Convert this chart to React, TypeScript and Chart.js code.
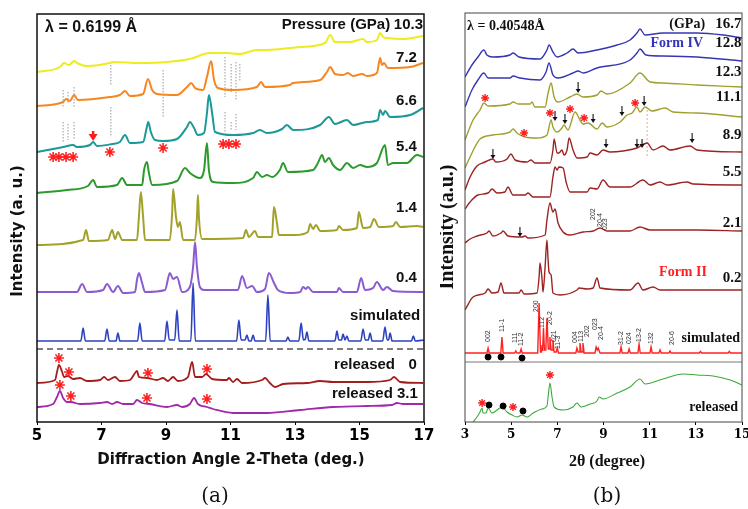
import { useEffect, useRef } from "react";
import { Chart, registerables } from "chart.js";
Chart.register(...registerables);

type P = [number, number];

// ---------------- Panel (a) data: [2θ, intensity (stacked, a.u.)] ----------------
const a103: P[] = [[5.00,350],[5.71,355],[5.84,359],[5.99,357],[6.15,361],[6.24,359],[6.55,356],[7.26,359],[7.36,360],[8.19,359],[9.03,360],[9.74,363],[10.36,369],[10.89,369],[11.29,368],[11.82,372],[12.13,372],[13.16,375],[13.93,379],[14.09,387],[14.24,380],[14.71,380],[15.11,383],[15.23,380],[15.54,382],[15.64,389],[15.73,385],[15.86,384],[16.35,383],[16.97,386]];
const a72: P[] = [[5.00,316],[5.81,320],[5.90,323],[6.02,321],[6.15,327],[6.27,322],[7.26,325],[7.57,327],[7.73,331],[7.88,326],[8.29,328],[8.44,343],[8.57,332],[8.72,328],[9.34,327],[9.65,335],[9.78,339],[9.90,334],[10.15,332],[10.27,345],[10.40,361],[10.49,342],[10.61,334],[11.08,332],[11.82,335],[11.95,340],[12.07,335],[12.84,337],[12.94,339],[13.78,342],[13.99,350],[14.09,355],[14.24,348],[14.49,347],[14.64,349],[14.80,346],[15.08,348],[15.23,346],[15.54,349],[15.64,364],[15.70,357],[15.76,359],[15.88,354],[16.57,355],[16.97,359]];
const a66: P[] = [[5.00,270],[5.50,273],[5.81,275],[6.12,277],[6.24,275],[6.64,277],[6.74,280],[6.86,276],[7.33,278],[7.57,280],[7.73,287],[7.88,279],[8.29,280],[8.40,294],[8.45,300],[8.53,290],[8.66,282],[8.91,281],[9.34,283],[9.65,295],[9.74,300],[9.87,294],[9.99,287],[10.18,289],[10.27,309],[10.33,327],[10.43,309],[10.52,290],[11.08,287],[11.70,289],[11.91,292],[12.13,289],[12.60,293],[12.75,297],[12.94,292],[13.78,297],[14.05,305],[14.24,298],[14.61,302],[14.80,297],[15.23,300],[15.57,302],[15.64,312],[15.73,307],[15.79,311],[15.95,305],[16.57,307],[16.97,314]];
const a54: P[] = [[5.00,229],[5.93,232],[6.58,236],[6.74,242],[6.86,235],[7.48,237],[7.64,244],[7.79,237],[8.26,237],[8.32,252],[8.41,260],[8.47,249],[8.57,237],[9.34,241],[9.59,254],[9.74,249],[10.05,244],[10.18,252],[10.27,279],[10.33,252],[10.46,240],[11.08,239],[11.70,244],[11.82,250],[11.98,245],[12.13,247],[12.29,245],[12.53,252],[12.63,259],[12.78,250],[13.56,252],[13.71,259],[13.84,267],[13.93,260],[14.05,264],[14.18,257],[14.40,252],[14.61,259],[14.80,254],[15.02,257],[15.23,255],[15.54,259],[15.79,277],[15.88,257],[16.04,259],[16.47,259],[16.78,267],[16.97,265]];
const a14: P[] = [[5.00,177],[6.43,182],[6.52,192],[6.61,181],[7.20,182],[7.33,192],[7.42,183],[7.51,190],[7.64,182],[8.10,182],[8.16,205],[8.22,230],[8.29,205],[8.35,182],[9.12,182],[9.19,209],[9.22,233],[9.31,205],[9.37,195],[9.43,200],[9.53,182],[9.90,182],[9.96,205],[9.99,227],[10.02,205],[10.12,183],[11.39,184],[11.48,192],[11.57,185],[11.76,191],[11.85,185],[12.29,185],[12.32,202],[12.35,215],[12.44,199],[12.50,187],[13.00,187],[13.40,190],[13.47,198],[13.56,193],[13.65,197],[13.78,191],[14.30,192],[14.36,196],[14.49,192],[14.92,194],[14.98,210],[15.11,194],[15.33,195],[15.45,203],[15.60,195],[16.04,196],[16.13,200],[16.26,195],[16.78,196],[16.97,195]];
const a04: P[] = [[5.00,130],[6.24,130],[6.40,138],[6.55,130],[7.05,132],[7.17,138],[7.36,130],[7.51,136],[7.67,129],[8.04,130],[8.10,142],[8.16,149],[8.26,139],[8.35,130],[8.97,132],[9.12,149],[9.22,143],[9.34,145],[9.50,130],[9.74,135],[9.84,155],[9.90,180],[9.96,155],[10.05,135],[10.18,132],[11.23,132],[11.36,146],[11.51,134],[11.67,136],[11.82,130],[12.07,133],[12.19,149],[12.35,139],[12.47,132],[12.84,129],[13.16,130],[13.25,135],[13.34,133],[13.40,135],[13.56,130],[14.30,130],[14.36,134],[14.49,130],[14.92,130],[15.05,144],[15.17,132],[15.42,134],[15.54,140],[15.73,132],[15.85,135],[16.04,131],[16.97,130]];
const aSim: P[] = [[5.00,81],[6.36,81],[6.43,94],[6.50,81],[7.10,81],[7.17,93],[7.24,81],[7.45,81],[7.51,89],[7.57,81],[8.12,81],[8.19,99],[8.26,81],[8.96,81],[9.03,101],[9.10,82],[9.27,82],[9.34,112],[9.41,81],[9.77,81],[9.84,139],[9.91,81],[11.19,81],[11.26,102],[11.33,82],[11.45,82],[11.51,87],[11.57,81],[11.64,81],[11.70,87],[11.76,81],[12.09,81],[12.16,127],[12.23,81],[12.72,81],[12.78,85],[12.84,81],[13.12,81],[13.19,99],[13.26,82],[13.32,83],[13.37,90],[13.43,81],[14.24,81],[14.30,91],[14.36,82],[14.44,82],[14.49,88],[14.55,82],[14.61,86],[14.67,81],[15.04,81],[15.11,93],[15.18,82],[15.27,82],[15.33,89],[15.39,81],[15.72,81],[15.79,95],[15.86,82],[15.90,82],[15.95,89],[16.01,81],[16.61,81],[16.67,86],[16.73,81],[17.00,82]];
const aRel0: P[] = [[5.00,39],[5.56,42],[5.62,50],[5.68,57],[5.78,50],[5.84,45],[5.96,46],[6.12,43],[6.33,44],[6.55,41],[6.95,42],[7.08,45],[7.20,42],[7.42,45],[7.57,41],[7.88,42],[8.04,49],[8.10,51],[8.16,45],[8.41,44],[8.72,42],[8.91,44],[9.06,41],[9.22,45],[9.37,41],[9.68,45],[9.81,60],[9.90,45],[10.12,45],[10.24,48],[10.43,43],[10.89,42],[10.95,44],[11.08,40],[11.20,43],[11.36,39],[11.98,42],[12.07,44],[12.22,39],[12.38,35],[12.63,38],[13.37,39],[13.78,41],[14.18,40],[15.23,40],[15.95,42],[16.07,45],[16.26,40],[16.97,39]];
const aRel31: P[] = [[5.00,15],[5.50,18],[5.62,25],[5.71,31],[5.81,24],[5.93,20],[6.05,20],[6.33,18],[6.95,19],[7.17,20],[7.33,18],[7.48,20],[7.67,18],[7.98,18],[8.10,22],[8.26,19],[8.50,18],[9.03,15],[9.34,17],[9.50,15],[9.74,18],[9.87,24],[9.99,18],[10.27,15],[10.46,13],[11.08,9],[12.13,9],[13.16,12],[14.18,15],[15.23,16],[16.01,17],[16.16,19],[16.35,18],[16.97,18]];
const aStarX = [5.50,5.68,5.90,6.12,7.26,8.91,10.77,10.95,11.17,5.68,5.99,8.44,10.27,5.71,6.05,8.41,10.27];
const aStarY = [265,265,265,265,270,274,278,278,278,64,50,49,53,37,26,24,23];
// dotted guide segments: [2θ, from, to]
const aGuides: [number, number, number][] = [[5.81,332,315],[5.81,300,280],[5.96,330,318],[5.96,298,282],[6.15,335,315],[6.15,300,282],[7.29,357,337],[7.29,315,285],[8.91,352,305],[10.83,365,325],[10.83,310,290],[11.02,358,330],[11.02,300,292],[11.17,360,322],[11.17,308,292],[11.29,358,340]];
const aSeparator: P[] = [[5,73],[17,73]];
const aArrowX = [6.74];
const aArrowTop = [291];
const aArrowTip = [281];

// ---------------- Panel (b) data ----------------
const b167: P[] = [[3.00,345],[3.30,357],[3.56,365],[3.82,372],[3.95,367],[4.21,365],[4.95,367],[5.08,369],[5.34,365],[6.25,363],[6.55,372],[6.64,377],[6.81,370],[6.99,365],[7.42,369],[7.68,373],[7.90,369],[8.72,372],[9.59,377],[10.15,382],[10.45,389],[10.58,393],[10.80,387],[11.58,389],[13.05,389],[14.18,387],[15.00,384]];
const b128: P[] = [[3.00,315],[3.30,332],[3.56,342],[3.82,349],[4.00,344],[4.95,344],[5.08,346],[5.38,344],[6.25,342],[6.51,350],[6.64,359],[6.81,347],[7.03,344],[7.68,349],[7.90,351],[8.12,349],[8.72,354],[10.15,362],[10.45,369],[10.58,373],[10.84,367],[11.58,366],[13.05,365],[15.00,361]];
const b123: P[] = [[3.00,282],[3.35,302],[3.65,312],[3.82,319],[4.00,316],[4.95,318],[5.08,320],[5.30,318],[5.82,318],[5.90,320],[6.03,315],[6.47,315],[6.60,329],[6.73,339],[6.86,325],[7.03,320],[7.55,325],[7.85,328],[8.11,325],[8.72,327],[8.89,331],[9.15,328],[10.15,339],[10.58,349],[11.02,340],[11.58,339],[13.05,337],[15.00,335]];
const b111: P[] = [[3.00,254],[3.22,265],[3.43,275],[3.65,283],[4.21,287],[4.95,290],[5.08,293],[5.25,289],[5.60,285],[6.12,284],[6.55,287],[6.73,302],[6.81,295],[6.99,290],[7.20,294],[7.29,297],[7.46,292],[7.77,310],[7.98,302],[8.11,298],[8.33,299],[8.72,293],[8.94,299],[9.15,295],[9.72,300],[10.02,307],[10.24,309],[10.45,315],[10.58,310],[10.80,315],[11.10,311],[11.67,314],[12.01,310],[13.05,309],[15.00,305]];
const b89: P[] = [[3.00,232],[3.22,245],[3.52,256],[3.87,260],[4.21,263],[4.34,260],[4.82,263],[4.99,268],[5.17,262],[5.69,260],[5.86,262],[6.03,259],[6.68,259],[6.81,272],[6.86,283],[6.99,269],[7.07,269],[7.20,272],[7.29,267],[7.42,272],[7.51,284],[7.68,272],[7.85,264],[8.29,265],[8.42,269],[8.72,267],[8.98,272],[9.28,270],[9.85,271],[10.45,274],[10.89,279],[11.15,272],[11.58,276],[11.88,272],[12.75,276],[13.05,272],[15.00,270]];
const b55: P[] = [[3.00,213],[3.22,220],[3.56,227],[4.00,229],[4.17,233],[4.39,229],[4.73,230],[4.86,235],[5.08,227],[5.60,227],[5.73,229],[5.95,225],[6.68,225],[6.81,245],[6.90,255],[6.99,252],[7.07,255],[7.25,254],[7.38,240],[7.55,230],[8.29,230],[8.42,234],[8.72,233],[8.98,242],[9.28,235],[10.15,235],[10.71,242],[11.02,237],[11.45,240],[11.75,237],[12.62,240],[12.88,238],[15.00,237]];
const b21: P[] = [[3.00,179],[3.22,183],[3.52,186],[3.95,189],[4.04,191],[4.21,186],[4.56,189],[4.65,191],[4.86,186],[5.47,185],[5.60,186],[5.73,184],[6.47,187],[6.55,202],[6.68,219],[6.81,210],[6.90,213],[7.03,199],[7.25,190],[7.55,187],[8.11,190],[8.55,191],[8.85,194],[9.15,191],[10.15,191],[10.58,195],[11.02,192],[13.05,192],[15.00,191]];
const b02: P[] = [[3.00,112],[3.35,125],[3.87,129],[4.00,133],[4.17,129],[4.43,130],[4.56,139],[4.69,129],[5.34,129],[5.43,132],[5.56,128],[6.12,129],[6.21,145],[6.25,159],[6.34,142],[6.38,130],[6.47,155],[6.55,182],[6.60,162],[6.64,150],[6.73,147],[6.81,129],[7.12,127],[7.85,132],[7.94,134],[8.29,133],[8.55,134],[8.72,144],[8.85,134],[10.15,132],[10.50,139],[10.71,132],[11.15,135],[11.45,132],[15.00,132]];
const bSim: P[] = [[3.0,69],[3.95,69],[4.00,74],[4.05,69],[4.55,69],[4.60,85],[4.65,69],[5.15,69],[5.20,71],[5.25,69],[5.38,69],[5.43,73],[5.48,69],[6.15,69],[6.21,119],[6.27,70],[6.31,70],[6.34,77],[6.36,71],[6.40,94],[6.44,72],[6.50,72],[6.55,104],[6.61,73],[6.64,73],[6.68,85],[6.73,72],[6.77,72],[6.81,82],[6.86,70],[6.95,70],[7.00,74],[7.05,69],[7.80,69],[7.85,74],[7.90,70],[7.94,70],[7.98,79],[8.03,70],[8.07,70],[8.11,79],[8.16,69],[8.63,69],[8.68,75],[8.73,72],[8.77,74],[8.85,69],[9.71,69],[9.76,75],[9.81,69],[10.06,69],[10.11,73],[10.16,69],[10.49,69],[10.54,78],[10.59,69],[11.01,69],[11.06,75],[11.11,69],[11.40,69],[11.45,72],[11.50,69],[11.83,69],[11.88,71],[11.93,69],[13.15,69],[13.20,70.5],[13.25,69],[14.40,69],[14.45,70.5],[14.50,69],[15.0,69]];
const bRel: P[] = [[3.35,0],[3.52,5],[3.65,10],[3.74,14],[3.78,9],[3.91,9],[4.00,14],[4.17,9],[4.39,12],[4.60,15],[4.82,10],[5.04,7],[5.25,5],[5.47,7],[5.69,5],[5.95,9],[6.34,13],[6.55,16],[6.60,25],[6.68,39],[6.77,25],[6.86,15],[7.25,12],[7.68,15],[7.85,19],[8.03,15],[8.42,18],[8.72,21],[8.81,25],[8.98,23],[9.59,29],[10.15,35],[10.58,43],[10.80,38],[11.58,43],[12.45,48],[13.05,47],[13.75,46],[14.49,42],[15.00,37]];
const bStarX = [3.87,5.56,6.68,7.55,8.16,10.37,6.68,3.74,5.08];
const bStarY = [324,289,309,313,304,319,47,19,15];
const bDotX = [4.00,4.56,5.47,4.04,4.65,5.51];
const bDotY = [65,65,64,17,16,11];
const bSeparator: P[] = [[3,60],[15,60]];
const bPinkGuide: P[] = [[10.89,312],[10.89,265]];
const bArrowX = [7.90,6.90,7.33,8.55,9.80,10.76,4.21,9.11,10.45,10.67,12.84,5.38];
const bArrowTop = [340,311,308,308,316,326,273,283,283,283,289,195];
const bArrowTip = [329,301,298,299,306,316,263,274,274,274,279,185];
const hklText = ["002","11-1","111","11-2","200","112","20-2","021","11-3","004","113","202","023","20-4","31-2","024","13-2","132","20-6","202","20-4","023"];
const hklX = [4.00,4.60,5.15,5.43,6.08,6.34,6.68,6.86,7.05,7.77,8.03,8.29,8.63,8.89,9.76,10.11,10.54,11.06,11.97,8.55,8.85,9.07];
const hklY = [80,90,79,76,110,94,97,80,73,79,80,85,92,82,77,78,80,78,77,202,195,192];

// ---------------- helpers ----------------
const xy = (p: P[]) => p.map(([x, y]) => ({ x, y }));
const trace = (p: P[], color: string, width: number) => ({
  type: "line",
  data: xy(p),
  borderColor: color,
  borderWidth: width,
  pointRadius: 0,
  cubicInterpolationMode: "monotone",
  fill: false,
});
const guideData = (g: [number, number, number][]) =>
  g.flatMap(([x, y1, y2]) => [{ x, y: y1 }, { x, y: y2 }, { x, y: null as any }]);
const markers = (xs: number[], ys: number[], style: string, color: string, r: number, bw: number) => ({
  type: "line",
  data: xs.map((x, i) => ({ x, y: ys[i] })),
  showLine: false,
  pointStyle: style,
  pointRadius: r,
  pointBorderWidth: bw,
  borderColor: color,
  backgroundColor: color,
  pointBackgroundColor: color,
  pointBorderColor: color,
});

type Txt = { t: string; x: number; y: number; align?: CanvasTextAlign; font: string; color?: string; rot?: boolean };
type Abs = { t: string; x: number; y: number; font: string; rot?: boolean };
type Overlay = {
  id: string;
  frameColor: string;
  frameWidth: number;
  texts: Txt[];
  abs: Abs[];
  arrows: { xs: number[]; tops: number[]; tips: number[]; color: string; lw: number; hw: number; hl: number };
};

const makeOverlay = (o: Overlay) => ({
  id: "overlay_" + o.id,
  afterDatasetsDraw(chart: any) {
    const { ctx, chartArea: ca, scales } = chart;
    const xs = scales.x, ys = scales.y;
    ctx.save();
    ctx.strokeStyle = o.frameColor;
    ctx.lineWidth = o.frameWidth;
    ctx.strokeRect(ca.left, ca.top, ca.right - ca.left, ca.bottom - ca.top);
    const ar = o.arrows;
    ctx.strokeStyle = ar.color;
    ctx.fillStyle = ar.color;
    ctx.lineWidth = ar.lw;
    ar.xs.forEach((xv, i) => {
      const px = xs.getPixelForValue(xv);
      const p1 = ys.getPixelForValue(ar.tops[i]);
      const p2 = ys.getPixelForValue(ar.tips[i]);
      ctx.beginPath();
      ctx.moveTo(px, p1);
      ctx.lineTo(px, p2 - ar.hl + 0.5);
      ctx.stroke();
      ctx.beginPath();
      ctx.moveTo(px - ar.hw / 2, p2 - ar.hl);
      ctx.lineTo(px + ar.hw / 2, p2 - ar.hl);
      ctx.lineTo(px, p2);
      ctx.closePath();
      ctx.fill();
    });
    for (const t of o.texts) {
      const px = xs.getPixelForValue(t.x);
      const py = ys.getPixelForValue(t.y);
      ctx.font = t.font;
      ctx.fillStyle = t.color || "#111";
      ctx.textBaseline = "middle";
      if (t.rot) {
        ctx.save();
        ctx.translate(px, py);
        ctx.rotate(-Math.PI / 2);
        ctx.textAlign = "left";
        ctx.fillText(t.t, 0, 0);
        ctx.restore();
      } else {
        ctx.textAlign = t.align || "left";
        ctx.fillText(t.t, px, py);
      }
    }
    for (const t of o.abs) {
      ctx.font = t.font;
      ctx.fillStyle = "#111";
      ctx.textBaseline = "middle";
      ctx.textAlign = "center";
      if (t.rot) {
        ctx.save();
        ctx.translate(t.x, t.y);
        ctx.rotate(-Math.PI / 2);
        ctx.fillText(t.t, 0, 0);
        ctx.restore();
      } else {
        ctx.fillText(t.t, t.x, t.y);
      }
    }
    ctx.restore();
  },
});

const baseOptions = (xmin: number, xmax: number, ymax: number, pad: any, tickFont: any, tickPad: number) => ({
  responsive: false,
  animation: false,
  devicePixelRatio: 1,
  events: [],
  layout: { padding: pad },
  plugins: { legend: { display: false }, tooltip: { enabled: false } },
  scales: {
    x: {
      type: "linear",
      min: xmin,
      max: xmax,
      afterFit: (s: any) => { s.height = 87; },
      ticks: { stepSize: 2, color: "#000", font: tickFont, padding: tickPad, maxRotation: 0, autoSkip: false },
      grid: { display: true, drawOnChartArea: false, drawTicks: true, tickLength: 3, color: "#000", lineWidth: 1 },
      border: { display: false },
    },
    y: { type: "linear", display: false, min: 0, max: ymax },
  },
});

const SANS = '"Liberation Sans", Arial, sans-serif';
const SERIF = '"Liberation Serif", "Times New Roman", serif';
const fa = `bold 15px ${SANS}`;
const fb = `bold 14px ${SERIF}`;
const fbn = `bold 15px ${SERIF}`;

function configA(): any {
  const texts: Txt[] = [
    { t: "λ = 0.6199 Å", x: 5.25, y: 394, font: `bold 16px ${SANS}` },
    { t: "Pressure (GPa)", x: 15.95, y: 397, align: "right", font: fa },
    { t: "10.3", x: 16.97, y: 397, align: "right", font: fa },
    { t: "7.2", x: 16.78, y: 364, align: "right", font: fa },
    { t: "6.6", x: 16.78, y: 321, align: "right", font: fa },
    { t: "5.4", x: 16.78, y: 275, align: "right", font: fa },
    { t: "1.4", x: 16.78, y: 214, align: "right", font: fa },
    { t: "0.4", x: 16.78, y: 144, align: "right", font: fa },
    { t: "simulated", x: 16.88, y: 106, align: "right", font: fa },
    { t: "released", x: 16.10, y: 57, align: "right", font: fa },
    { t: "0", x: 16.78, y: 57, align: "right", font: fa },
    { t: "released 3.1", x: 16.81, y: 28, align: "right", font: fa },
  ];
  const abs: Abs[] = [
    { t: "Diffraction Angle 2-Theta (deg.)", x: 231, y: 460, font: 'bold 15px "DejaVu Sans", sans-serif' },
    { t: "Intensity (a. u.)", x: 18, y: 231, font: 'bold 15px "DejaVu Sans", sans-serif', rot: true },
    { t: "(a)", x: 215, y: 497, font: '20px "DejaVu Serif", serif' },
  ];
  return {
    type: "line",
    data: {
      datasets: [
        markers(aStarX, aStarY, "star", "#ff2020", 5, 1.6),
        trace(a103, "#ecec20", 2),
        trace(a72, "#f7861f", 2),
        trace(a66, "#1b9898", 2),
        trace(a54, "#2c9a2c", 2),
        trace(a14, "#a2a22a", 2),
        trace(a04, "#8b5bd0", 2),
        trace(aSim, "#2c42c0", 1.6),
        trace(aRel0, "#a31d1d", 1.8),
        trace(aRel31, "#a02aaa", 1.8),
        { type: "line", data: xy(aSeparator), borderColor: "#555", borderWidth: 1.6, borderDash: [6, 4], pointRadius: 0 },
        { type: "line", data: guideData(aGuides), borderColor: "#999", borderWidth: 1, borderDash: [1.5, 1.5], pointRadius: 0, spanGaps: false },
      ],
    },
    options: baseOptions(5, 17, 408, { left: 37, right: 16, top: 14, bottom: 0 }, { family: "DejaVu Sans", weight: "bold", size: 15 }, 2),
    plugins: [
      makeOverlay({
        id: "a", frameColor: "#111", frameWidth: 1.5, texts, abs,
        arrows: { xs: aArrowX, tops: aArrowTop, tips: aArrowTip, color: "#ff1a1a", lw: 2.5, hw: 9, hl: 7 },
      }),
    ],
  };
}

function configB(): any {
  const texts: Txt[] = [
    { t: "λ = 0.40548Å", x: 3.09, y: 396, font: fb },
    { t: "(GPa)", x: 13.40, y: 398, align: "right", font: fb },
    { t: "16.7", x: 14.98, y: 398, align: "right", font: fbn },
    { t: "Form IV", x: 13.31, y: 379, align: "right", font: fb, color: "#3434b8" },
    { t: "12.8", x: 14.98, y: 379, align: "right", font: fbn },
    { t: "12.3", x: 14.98, y: 350, align: "right", font: fbn },
    { t: "11.1", x: 14.98, y: 325, align: "right", font: fbn },
    { t: "8.9", x: 14.98, y: 287, align: "right", font: fbn },
    { t: "5.5", x: 14.98, y: 250, align: "right", font: fbn },
    { t: "2.1", x: 14.98, y: 199, align: "right", font: fbn },
    { t: "Form II", x: 13.48, y: 150, align: "right", font: fb, color: "#ff2020" },
    { t: "0.2", x: 14.98, y: 144, align: "right", font: fbn },
    { t: "simulated", x: 14.91, y: 84, align: "right", font: fb },
    { t: "released", x: 14.83, y: 15, align: "right", font: fb },
    ...hklText.map((t, i) => ({ t, x: hklX[i], y: hklY[i], rot: true, font: `7px ${SANS}`, color: "#333" })),
  ];
  const abs: Abs[] = [
    { t: "2θ (degree)", x: 167, y: 462, font: `bold 16px ${SERIF}` },
    { t: "Intensity (a.u.)", x: 8, y: 227, font: `bold 20px ${SERIF}`, rot: true },
    { t: "(b)", x: 167, y: 497, font: '20px "DejaVu Serif", serif' },
  ];
  return {
    type: "line",
    data: {
      datasets: [
        markers(bStarX, bStarY, "star", "#ff2020", 4, 1.4),
        markers(bDotX, bDotY, "circle", "#000", 3, 1),
        trace(b167, "#3636b4", 1.4),
        trace(b128, "#3636b4", 1.4),
        trace(b123, "#a0a030", 1.4),
        trace(b111, "#a0a030", 1.4),
        trace(b89, "#9c2323", 1.4),
        trace(b55, "#9c2323", 1.4),
        trace(b21, "#9c2323", 1.4),
        trace(b02, "#9c2323", 1.4),
        { ...trace(bSim, "#ff2222", 1.4), cubicInterpolationMode: "default", tension: 0 },
        trace(bRel, "#3aaa3a", 1.1),
        { type: "line", data: xy(bSeparator), borderColor: "#777", borderWidth: 1, pointRadius: 0 },
        { type: "line", data: xy(bPinkGuide), borderColor: "#f4a0a0", borderWidth: 1, borderDash: [2, 2], pointRadius: 0 },
      ],
    },
    options: baseOptions(3, 15, 409, { left: 25, right: 18, top: 13, bottom: 0 }, { family: "DejaVu Serif", weight: "bold", size: 12 }, 3),
    plugins: [
      makeOverlay({
        id: "b", frameColor: "#444", frameWidth: 1, texts, abs,
        arrows: { xs: bArrowX, tops: bArrowTop, tips: bArrowTip, color: "#111", lw: 1.1, hw: 5, hl: 4 },
      }),
    ],
  };
}

export default function App() {
  const refA = useRef<HTMLCanvasElement>(null);
  const refB = useRef<HTMLCanvasElement>(null);
  useEffect(() => {
    const ca = new Chart(refA.current as HTMLCanvasElement, configA());
    const cb = new Chart(refB.current as HTMLCanvasElement, configB());
    return () => {
      ca.destroy();
      cb.destroy();
    };
  }, []);
  return (
    <div style={{ position: "fixed", left: 0, top: 0, width: 748, height: 509, overflow: "hidden", background: "#fff" }}>
      <canvas ref={refA} width={440} height={509} style={{ position: "absolute", left: 0, top: 0, width: 440, height: 509 }} />
      <canvas ref={refB} width={320} height={509} style={{ position: "absolute", left: 440, top: 0, width: 320, height: 509 }} />
    </div>
  );
}
